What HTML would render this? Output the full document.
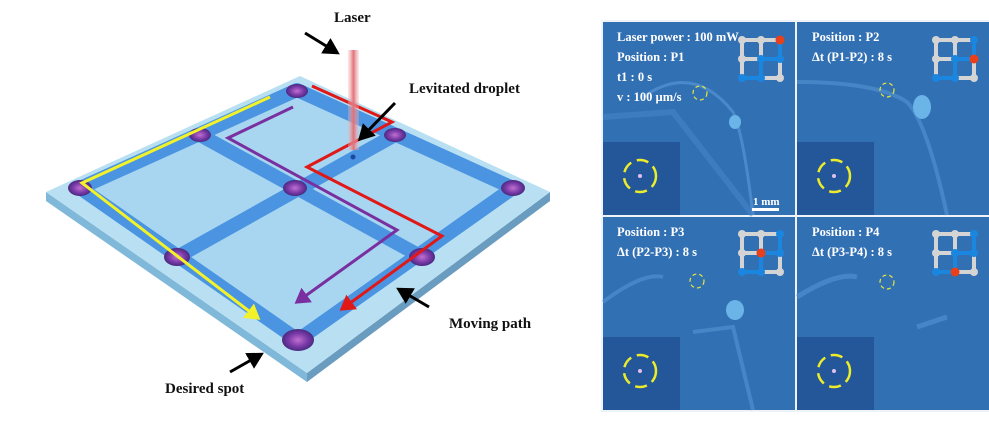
<!DOCTYPE html>
<html><head><meta charset="utf-8"><style>
html,body{margin:0;padding:0;background:#fff;width:989px;height:436px;overflow:hidden}
svg{display:block}
.lb{font-family:"Liberation Serif",serif;font-weight:bold;font-size:15px;fill:#111}
.pt{font-family:"Liberation Serif",serif;font-weight:bold;font-size:12.5px;fill:#fff}
</style></head><body>
<svg width="989" height="436" viewBox="0 0 989 436" xmlns="http://www.w3.org/2000/svg">
<defs>
<linearGradient id="beam" x1="0" x2="1" y1="0" y2="0">
<stop offset="0" stop-color="#f4b8b8" stop-opacity="0.3"/><stop offset="0.5" stop-color="#e0707a"/><stop offset="1" stop-color="#f4b8b8" stop-opacity="0.3"/></linearGradient>
<radialGradient id="drop" cx="0.5" cy="0.5" r="0.5"><stop offset="0" stop-color="#c070d0"/><stop offset="0.6" stop-color="#7a3aa8"/><stop offset="1" stop-color="#4a2a80"/></radialGradient>
<marker id="ay" markerWidth="6" markerHeight="6" refX="4" refY="3" orient="auto" markerUnits="strokeWidth"><path d="M0,0 L5,3 L0,6 z" fill="#f2f22a"/></marker>
<marker id="ap" markerWidth="6" markerHeight="6" refX="4" refY="3" orient="auto" markerUnits="strokeWidth"><path d="M0,0 L5,3 L0,6 z" fill="#7a2fa0"/></marker>
<marker id="ar" markerWidth="6" markerHeight="6" refX="4" refY="3" orient="auto" markerUnits="strokeWidth"><path d="M0,0 L5,3 L0,6 z" fill="#e01818"/></marker>
<marker id="ak" markerWidth="6" markerHeight="6" refX="4" refY="3" orient="auto" markerUnits="strokeWidth"><path d="M0,0 L5.5,3 L0,6 z" fill="#000"/></marker>
</defs>

<polygon points="46,192 307,373 307,382 46,201" fill="#7fb8d8"/>
<polygon points="307,373 550,192 550,201 307,382" fill="#6a9cc0"/>
<polygon points="46,192 300,76 550,192 307,373" fill="#b8e0f2"/>
<polygon points="80,188 297,90 513,188 298,340" fill="#a8d6f0"/>
<g stroke="#4a94e2" stroke-width="14" stroke-linejoin="round" fill="none">
<polygon points="80,188 297,90 513,188 298,340"/>
<line x1="200" y1="135" x2="422" y2="257"/>
<line x1="395" y1="135" x2="177" y2="257"/>
</g>
<g fill="url(#drop)">
<ellipse cx="297" cy="91" rx="11" ry="7"/>
<ellipse cx="200" cy="135" rx="11" ry="7"/>
<ellipse cx="395" cy="135" rx="11" ry="7"/>
<ellipse cx="80" cy="188" rx="12" ry="8"/>
<ellipse cx="295" cy="188" rx="12" ry="8"/>
<ellipse cx="513" cy="188" rx="12" ry="8"/>
<ellipse cx="177" cy="257" rx="13" ry="9"/>
<ellipse cx="422" cy="257" rx="13" ry="9"/>
<ellipse cx="298" cy="340" rx="16" ry="11"/>
</g>
<polyline points="270,97 82,183 258,318" fill="none" stroke="#f2f22a" stroke-width="3" marker-end="url(#ay)"/>
<polyline points="293,107 228,138 397,230 297,302" fill="none" stroke="#7a2fa0" stroke-width="3" marker-end="url(#ap)"/>
<polyline points="312,86 392,122 307,167 442,236 342,309" fill="none" stroke="#e01818" stroke-width="3" marker-end="url(#ar)"/>
<rect x="348" y="50" width="11" height="100" fill="url(#beam)"/>
<circle cx="353" cy="157" r="2.5" fill="#1a4aa0"/>
<text class="lb" x="334" y="22">Laser</text>
<line x1="305" y1="33" x2="336" y2="52" stroke="#000" stroke-width="3" marker-end="url(#ak)"/>
<text class="lb" x="409" y="93">Levitated droplet</text>
<line x1="395" y1="103" x2="361" y2="138" stroke="#000" stroke-width="3" marker-end="url(#ak)"/>
<text class="lb" x="449" y="328">Moving path</text>
<line x1="429" y1="307" x2="400" y2="290" stroke="#000" stroke-width="3" marker-end="url(#ak)"/>
<text class="lb" x="165" y="393">Desired spot</text>
<line x1="230" y1="372" x2="260" y2="355" stroke="#000" stroke-width="3" marker-end="url(#ak)"/>

<rect x="601" y="20" width="388" height="392" fill="#eef3f8"/>
<g transform="translate(603,22)">
<rect width="192" height="193" fill="#3270b4"/>
<path d="M40,75 Q90,40 130,90 Q140,110 150,193" stroke="#5a9ad8" stroke-width="3" fill="none" opacity="0.6"/>
<path d="M0,95 L70,90 L150,193" stroke="#4a88cc" stroke-width="6" fill="none" opacity="0.5"/>
<ellipse cx="132" cy="100" rx="6" ry="7" fill="#6ab4e8"/>
<rect x="0" y="120" width="77" height="73" fill="#24579a"/>
<text class="pt" x="14" y="19">Laser power : 100 mW</text>
<text class="pt" x="14" y="39">Position : P1</text>
<text class="pt" x="14" y="59">t1 : 0 s</text>
<text class="pt" x="14" y="79">v : 100 µm/s</text>
<circle cx="97" cy="71" r="7" fill="none" stroke="#e8e83a" stroke-width="1.2" stroke-dasharray="4,3"/>
<circle cx="37" cy="154" r="16" fill="none" stroke="#ecec2a" stroke-width="2.5" stroke-dasharray="12,6"/>
<circle cx="37" cy="154" r="2" fill="#e0c0f0"/>
<text class="pt" x="150" y="183" style="font-size:11px">1 mm</text>
<rect x="149" y="186" width="27" height="3" fill="#fff"/>
</g>
<g transform="translate(797,22)">
<rect width="192" height="193" fill="#3270b4"/>
<path d="M0,60 Q80,60 110,80 Q130,100 150,193" stroke="#5a9ad8" stroke-width="4" fill="none" opacity="0.5"/>
<ellipse cx="125" cy="85" rx="9" ry="12" fill="#6ab4e8"/>
<rect x="0" y="120" width="77" height="73" fill="#24579a"/>
<text class="pt" x="15" y="19">Position : P2</text>
<text class="pt" x="15" y="39">Δt (P1-P2) : 8 s</text>
<circle cx="90" cy="68" r="7" fill="none" stroke="#e8e83a" stroke-width="1.2" stroke-dasharray="4,3"/>
<circle cx="37" cy="154" r="16" fill="none" stroke="#ecec2a" stroke-width="2.5" stroke-dasharray="12,6"/>
<circle cx="37" cy="154" r="2" fill="#e0c0f0"/>
</g>
<g transform="translate(603,217)">
<rect width="192" height="193" fill="#3270b4"/>
<path d="M0,85 Q40,55 60,60 M90,115 L130,110 L150,193" stroke="#5a9ad8" stroke-width="4" fill="none" opacity="0.5"/>
<ellipse cx="132" cy="93" rx="9" ry="10" fill="#6ab4e8"/>
<rect x="0" y="120" width="77" height="73" fill="#24579a"/>
<text class="pt" x="14" y="19">Position : P3</text>
<text class="pt" x="14" y="39">Δt (P2-P3) : 8 s</text>
<circle cx="94" cy="64" r="7" fill="none" stroke="#e8e83a" stroke-width="1.2" stroke-dasharray="4,3"/>
<circle cx="37" cy="154" r="16" fill="none" stroke="#ecec2a" stroke-width="2.5" stroke-dasharray="12,6"/>
<circle cx="37" cy="154" r="2" fill="#e0c0f0"/>
</g>
<g transform="translate(797,217)">
<rect width="192" height="193" fill="#3270b4"/>
<path d="M0,80 Q40,55 60,60 M120,110 L150,100" stroke="#5a9ad8" stroke-width="5" fill="none" opacity="0.5"/>
<rect x="0" y="120" width="77" height="73" fill="#24579a"/>
<text class="pt" x="15" y="19">Position : P4</text>
<text class="pt" x="15" y="39">Δt (P3-P4) : 8 s</text>
<circle cx="90" cy="65" r="7" fill="none" stroke="#e8e83a" stroke-width="1.2" stroke-dasharray="4,3"/>
<circle cx="37" cy="154" r="16" fill="none" stroke="#ecec2a" stroke-width="2.5" stroke-dasharray="12,6"/>
<circle cx="37" cy="154" r="2" fill="#e0c0f0"/>
</g>

<g transform="translate(742,40)">
<g stroke="#d4d4d4" stroke-width="4" fill="none"><rect x="0" y="0" width="38" height="38"/><line x1="19" y1="0" x2="19" y2="38"/><line x1="0" y1="19" x2="38" y2="19"/></g>
<polyline points="38,0 38,19 19,19 19,38 0,38" stroke="#1a86e0" stroke-width="4" fill="none"/>
<g fill="#d4d4d4"><circle cx="0" cy="0" r="4"/><circle cx="19" cy="0" r="4"/><circle cx="0" cy="19" r="4"/><circle cx="38" cy="38" r="4"/></g>
<g fill="#1a86e0"><circle cx="38" cy="19" r="4"/><circle cx="19" cy="19" r="4"/><circle cx="19" cy="38" r="4"/><circle cx="0" cy="38" r="4"/></g>
<circle cx="38" cy="0" r="4.5" fill="#e8401a"/>
</g>
<g transform="translate(936,40)">
<g stroke="#d4d4d4" stroke-width="4" fill="none"><rect x="0" y="0" width="38" height="38"/><line x1="19" y1="0" x2="19" y2="38"/><line x1="0" y1="19" x2="38" y2="19"/></g>
<polyline points="38,0 38,19 19,19 19,38 0,38" stroke="#1a86e0" stroke-width="4" fill="none"/>
<g fill="#d4d4d4"><circle cx="0" cy="0" r="4"/><circle cx="19" cy="0" r="4"/><circle cx="0" cy="19" r="4"/><circle cx="38" cy="38" r="4"/></g>
<g fill="#1a86e0"><circle cx="38" cy="0" r="4"/><circle cx="19" cy="19" r="4"/><circle cx="19" cy="38" r="4"/><circle cx="0" cy="38" r="4"/></g>
<circle cx="38" cy="19" r="4.5" fill="#e8401a"/>
</g>
<g transform="translate(742,234)">
<g stroke="#d4d4d4" stroke-width="4" fill="none"><rect x="0" y="0" width="38" height="38"/><line x1="19" y1="0" x2="19" y2="38"/><line x1="0" y1="19" x2="38" y2="19"/></g>
<polyline points="38,0 38,19 19,19 19,38 0,38" stroke="#1a86e0" stroke-width="4" fill="none"/>
<g fill="#d4d4d4"><circle cx="0" cy="0" r="4"/><circle cx="19" cy="0" r="4"/><circle cx="0" cy="19" r="4"/><circle cx="38" cy="38" r="4"/></g>
<g fill="#1a86e0"><circle cx="38" cy="0" r="4"/><circle cx="38" cy="19" r="4"/><circle cx="19" cy="38" r="4"/><circle cx="0" cy="38" r="4"/></g>
<circle cx="19" cy="19" r="4.5" fill="#e8401a"/>
</g>
<g transform="translate(936,234)">
<g stroke="#d4d4d4" stroke-width="4" fill="none"><rect x="0" y="0" width="38" height="38"/><line x1="19" y1="0" x2="19" y2="38"/><line x1="0" y1="19" x2="38" y2="19"/></g>
<polyline points="38,0 38,19 19,19 19,38 0,38" stroke="#1a86e0" stroke-width="4" fill="none"/>
<g fill="#d4d4d4"><circle cx="0" cy="0" r="4"/><circle cx="19" cy="0" r="4"/><circle cx="0" cy="19" r="4"/><circle cx="38" cy="38" r="4"/></g>
<g fill="#1a86e0"><circle cx="38" cy="0" r="4"/><circle cx="38" cy="19" r="4"/><circle cx="19" cy="19" r="4"/><circle cx="0" cy="38" r="4"/></g>
<circle cx="19" cy="38" r="4.5" fill="#e8401a"/>
</g>
</svg>
</body></html>
